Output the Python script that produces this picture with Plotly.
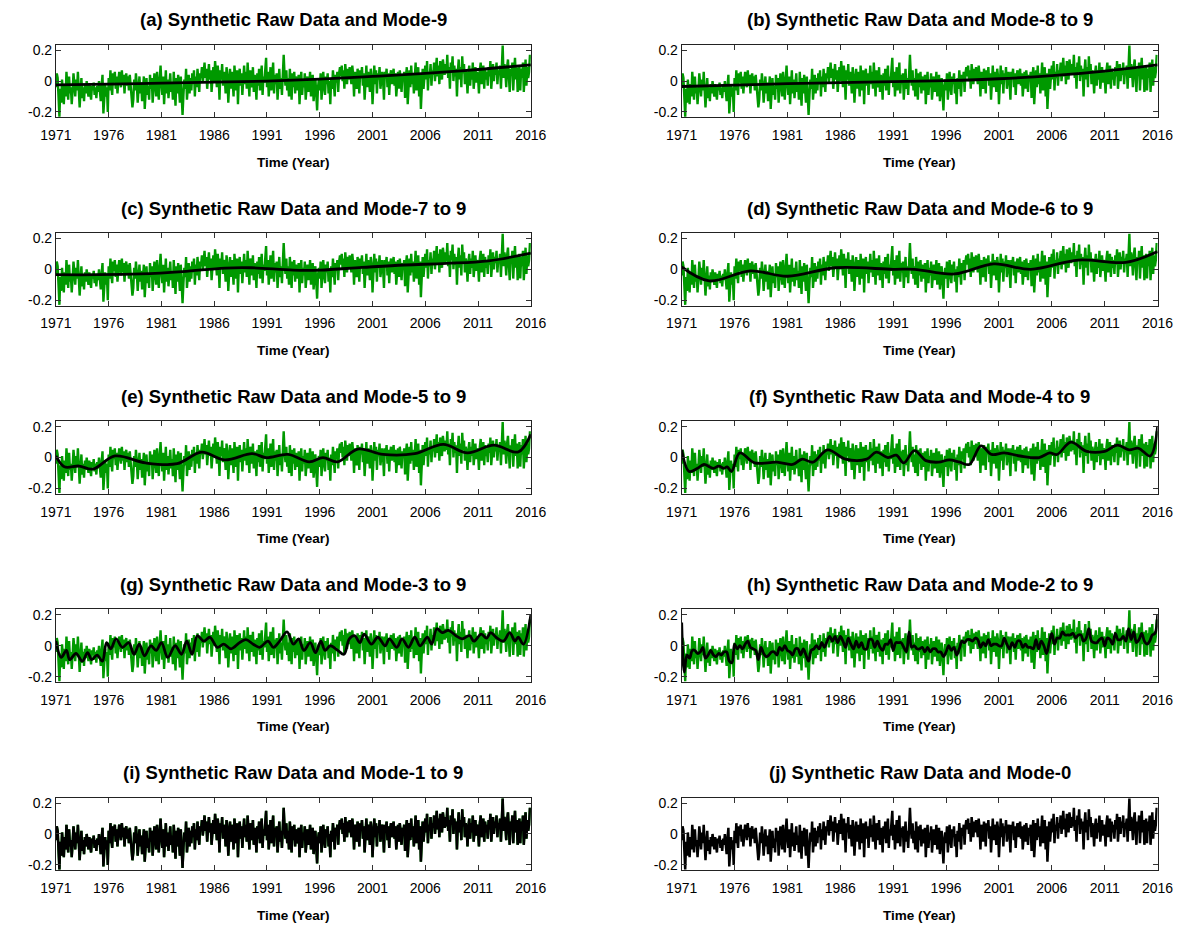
import plotly.graph_objects as go

# ---------------- data ----------------
START_YEAR = 1971
END_YEAR = 2016

# monthly synthetic raw series, Jan 1971 .. Dec 2015
RAW = [
    -0.04, 0.05, 0.02, -0.12, -0.23, -0.05, -0.14, 0.01, -0.08, -0.15, -0.02, -0.10,
    0.06, -0.03, -0.12, 0.03, -0.08, -0.04, -0.15, -0.06, 0.05, -0.02, -0.10, 0.01,
    -0.06, 0.06, -0.03, -0.17, -0.07, 0.02, -0.11, -0.04, -0.13, -0.02, -0.08, 0.00,
    -0.05, -0.10, -0.02, -0.07, -0.12, -0.03, -0.06, -0.01, -0.09, -0.04, -0.11, -0.03,
    -0.07, 0.00, -0.05, -0.13, -0.03, 0.04, -0.21, -0.08, -0.02, -0.10, -0.04, -0.20,
    0.02, -0.06, 0.07, -0.03, -0.09, 0.05, -0.01, 0.06, -0.05, 0.03, -0.08, 0.00,
    0.06, 0.01, -0.04, 0.07, -0.02, 0.04, -0.08, 0.02, 0.05, -0.03, 0.03, -0.06,
    0.04, -0.03, -0.10, -0.17, -0.12, 0.01, -0.06, 0.05, -0.02, -0.14, -0.05, 0.03,
    -0.08, -0.01, -0.13, -0.04, 0.03, -0.18, -0.06, 0.02, -0.09, -0.03, -0.12, 0.04,
    -0.05, 0.02, -0.14, -0.07, 0.05, -0.02, -0.10, 0.06, -0.04, -0.12, 0.01, 0.10,
    -0.02, -0.09, 0.03, -0.15, -0.04, 0.07, -0.08, 0.01, -0.11, -0.03, 0.05, -0.07,
    -0.01, -0.12, 0.06, -0.05, -0.16, 0.02, -0.08, 0.04, -0.03, -0.14, 0.03, -0.06,
    -0.22, -0.09, 0.01, -0.05, 0.08, -0.12, -0.03, 0.04, -0.08, 0.02, -0.06, 0.05,
    -0.02, 0.07, -0.10, 0.03, -0.04, 0.08, 0.00, -0.07, 0.05, 0.02, 0.09, -0.01,
    0.05, 0.12, 0.02, 0.08, -0.05, 0.06, 0.11, 0.01, 0.07, -0.07, 0.04, 0.09,
    0.00, 0.13, 0.05, -0.04, 0.10, 0.03, -0.12, 0.07, 0.01, 0.11, -0.03, 0.06,
    0.02, -0.08, 0.09, 0.04, -0.14, 0.03, 0.08, -0.05, 0.06, 0.00, -0.10, 0.10,
    0.04, -0.06, 0.07, -0.15, 0.02, 0.08, -0.03, 0.05, -0.09, 0.03, 0.10, -0.02,
    0.06, -0.05, 0.12, 0.01, -0.10, 0.07, 0.03, -0.04, 0.09, -0.07, 0.04, 0.00,
    -0.12, 0.05, -0.03, 0.08, -0.06, 0.02, 0.10, -0.09, 0.03, -0.01, 0.07, 0.15,
    -0.04, 0.06, -0.10, 0.03, 0.09, -0.06, 0.01, 0.12, -0.08, 0.04, -0.02, 0.05,
    -0.12, 0.03, 0.08, -0.05, 0.02, -0.09, 0.06, 0.17, 0.04, -0.03, 0.07, -0.06,
    0.02, -0.10, 0.08, 0.00, -0.12, 0.05, -0.04, 0.06, -0.08, 0.03, -0.01, -0.06,
    0.04, -0.15, -0.02, 0.06, -0.09, 0.01, -0.04, 0.05, -0.12, -0.01, 0.03, -0.07,
    -0.03, 0.06, -0.10, -0.02, 0.04, -0.13, -0.05, 0.02, -0.08, -0.19, -0.04, 0.01,
    -0.06, 0.05, -0.12, -0.01, 0.06, -0.04, -0.09, 0.03, -0.02, 0.05, -0.08, 0.00,
    -0.15, 0.02, -0.05, 0.07, -0.03, -0.10, 0.04, -0.01, 0.06, -0.07, 0.05, 0.09,
    0.03, 0.10, 0.00, 0.07, -0.05, 0.11, 0.04, -0.02, 0.08, 0.01, 0.09, 0.05,
    -0.02, 0.10, 0.04, -0.10, 0.06, 0.01, -0.05, 0.08, 0.03, -0.08, 0.07, 0.02,
    0.09, -0.03, 0.05, -0.12, 0.02, 0.10, -0.04, 0.06, 0.01, -0.07, 0.08, 0.03,
    -0.15, 0.04, 0.10, -0.02, 0.07, -0.08, 0.05, 0.01, 0.09, -0.05, 0.03, 0.06,
    0.00, -0.12, 0.06, 0.02, 0.08, -0.04, 0.05, -0.09, 0.03, 0.07, -0.02, 0.04,
    0.08, -0.03, 0.05, -0.10, 0.02, 0.06, -0.05, 0.07, 0.01, -0.07, 0.04, 0.00,
    0.06, -0.11, 0.03, 0.09, -0.15, 0.01, 0.07, -0.04, 0.10, -0.02, 0.05, -0.08,
    0.04, 0.12, -0.06, 0.02, 0.09, -0.10, 0.05, -0.18, -0.03, 0.08, -0.05, 0.03,
    0.10, 0.01, 0.13, -0.06, 0.06, 0.02, 0.11, -0.03, 0.07, 0.04, 0.12, 0.00,
    0.08, 0.15, 0.03, 0.10, -0.02, 0.13, 0.06, 0.01, 0.14, 0.07, 0.04, 0.11,
    0.05, 0.17, 0.02, 0.09, -0.05, 0.12, 0.06, 0.16, 0.00, 0.10, 0.03, 0.08,
    -0.10, 0.06, 0.14, 0.01, 0.09, -0.04, 0.16, 0.05, 0.11, -0.02, 0.07, 0.03,
    -0.08, 0.05, 0.10, -0.03, 0.07, 0.01, 0.12, -0.05, 0.04, 0.09, -0.01, 0.06,
    0.02, -0.08, 0.07, 0.12, -0.02, 0.05, 0.10, -0.05, 0.08, 0.01, 0.06, -0.03,
    0.09, 0.03, 0.13, -0.05, 0.06, 0.11, 0.00, 0.08, 0.04, 0.12, -0.02, 0.07,
    0.05, 0.10, -0.05, 0.08, 0.23, 0.02, 0.11, 0.06, -0.04, 0.09, 0.14, 0.03,
    -0.07, 0.08, 0.04, 0.12, -0.06, 0.06, 0.15, 0.01, 0.09, -0.07, 0.05, 0.10,
    -0.06, 0.08, 0.02, 0.12, -0.07, 0.05, 0.14, -0.03, 0.09, 0.02, 0.06, 0.17,
]

# reconstructed mode sums (year, value)
MODE9_T = [1971, 1976, 1981, 1986, 1991, 1996, 2001, 2006, 2011, 2016]
MODE9_V = [-0.025, -0.02, -0.013, -0.007, 0.0, 0.012, 0.03, 0.05, 0.075, 0.105]

MODE8_T = [1971, 1976, 1981, 1986, 1991, 1996, 2001, 2006, 2011, 2016]
MODE8_V = [-0.035, -0.026, -0.017, -0.01, -0.004, 0.003, 0.015, 0.035, 0.065, 0.105]

MODE7_T = [1971, 1975, 1979, 1983, 1987, 1989.5, 1993.5, 1996, 2000, 2004, 2008, 2012, 2016]
MODE7_V = [-0.035, -0.035, -0.03, -0.015, 0.008, 0.01, -0.005, -0.005, 0.012, 0.028, 0.038, 0.055, 0.105]

MODE6_T = [1971, 1973.6, 1977.5, 1981, 1985.5, 1991, 1993, 1996.8, 2000.5, 2004, 2008.5, 2013, 2016]
MODE6_V = [0.015, -0.075, -0.01, -0.045, 0.01, 0.0, 0.0, -0.03, 0.035, 0.0, 0.06, 0.045, 0.115]

MODE5_T = [1971, 1971.8, 1973.2, 1974.5, 1976.6, 1979.5, 1982.5, 1984.8, 1987, 1989.6, 1990.9,
           1993, 1995, 1996.3, 1997.7, 1999.6, 2002, 2005, 2007.7, 2010, 2012.5, 2014.8, 2016]
MODE5_V = [0.01, -0.06, -0.055, -0.075, 0.01, -0.035, -0.04, 0.035, -0.015, 0.025, 0.0,
           0.02, -0.028, 0.0, -0.028, 0.055, 0.02, 0.025, 0.085, 0.03, 0.08, 0.036, 0.15]

MODE4_T = [1971, 1971.7, 1972.5, 1973.1, 1974.0, 1974.5, 1975.0, 1975.3, 1975.7, 1976.5, 1977.9,
           1980, 1981.5, 1982.4, 1983.4, 1984.8, 1986.5, 1988.5, 1989.4, 1990.5, 1991.3, 1992.0,
           1993.0, 1994.1, 1995.3, 1996.3, 1997.3, 1998.2, 1999.3, 2000.3, 2001.5, 2003, 2004.8,
           2005.8, 2006.5, 2007.8, 2009.3, 2011.0, 2012.2, 2013.3, 2014.2, 2015.3, 2016]
MODE4_V = [0.05, -0.09, -0.07, -0.045, -0.07, -0.055, -0.07, -0.06, -0.09, 0.03, -0.035,
           -0.03, -0.045, -0.01, -0.03, 0.05, -0.01, -0.01, 0.035, 0.0, 0.015, -0.035,
           0.045, -0.02, -0.03, -0.015, -0.03, -0.045, 0.075, 0.02, 0.03, 0.01, 0.0,
           0.03, 0.02, 0.10, 0.04, 0.04, 0.08, 0.05, 0.06, 0.01, 0.2]

MODE3_T = [1971.0, 1971.5, 1972.0, 1972.3, 1972.9, 1973.5, 1974.0, 1974.4, 1974.9, 1975.4,
           1975.8, 1976.2, 1976.7, 1977.3, 1977.9, 1978.4, 1978.9, 1979.4, 1980.0, 1980.5,
           1981.0, 1981.6, 1982.3, 1982.9, 1983.4, 1983.9, 1984.4, 1985.0, 1985.6, 1986.3,
           1986.9, 1987.6, 1988.4, 1989.0, 1989.7, 1990.3, 1991.1, 1991.6, 1992.2, 1992.9,
           1993.5, 1994.0, 1994.5, 1995.1, 1995.6, 1996.1, 1996.5, 1997.0, 1997.7, 1998.3,
           1998.8, 1999.3, 1999.8, 2000.2, 2000.9, 2001.5, 2002.2, 2002.6, 2003.3, 2003.8,
           2004.4, 2005.0, 2005.5, 2006.2, 2006.6, 2007.1, 2007.6, 2008.2, 2008.9, 2009.5,
           2010.2, 2010.6, 2011.3, 2011.8, 2012.2, 2012.7, 2013.4, 2014.0, 2014.5, 2014.8,
           2015.3, 2016.0]
MODE3_V = [0.03, -0.075, -0.03, -0.09, -0.05, -0.1, -0.045, -0.09, -0.06, -0.1,
           0.02, -0.02, 0.045, -0.01, 0.02, -0.055, 0.01, -0.065, 0.0, -0.03,
           0.02, -0.075, 0.0, -0.055, 0.03, -0.055, 0.065, 0.03, 0.055, -0.01,
           0.01, -0.02, 0.02, 0.04, 0.01, -0.01, 0.03, -0.01, 0.03, 0.09,
           0.01, 0.045, -0.03, 0.02, -0.045, 0.03, -0.03, 0.0, -0.03, -0.055,
           0.045, 0.065, 0.02, 0.075, 0.01, 0.055, 0.0, 0.045, -0.01, 0.045,
           -0.01, 0.055, 0.0, 0.055, 0.01, 0.11, 0.085, 0.1, 0.065, 0.045,
           0.065, 0.03, 0.075, 0.05, 0.085, 0.055, 0.03, 0.085, 0.03, 0.055,
           0.01, 0.2]

# mode-2 to 9, quarterly values from 1971.0
MODE2_Q = [
    0.15, -0.17, -0.06, -0.08,  -0.03, -0.03, -0.05, -0.04,  -0.01, -0.08, -0.06, -0.03,
    -0.06, -0.07, -0.05, -0.06,  -0.04, -0.04, -0.10, -0.11,  0.01, -0.02, 0.00, -0.02,
    0.01, 0.03, -0.01, -0.02,  -0.03, -0.09, -0.01, -0.05,  -0.07, -0.06, -0.04, -0.04,
    -0.06, -0.01, -0.03, 0.00,  -0.03, -0.04, -0.06, -0.02,  -0.02, -0.06, -0.02, -0.06,
    -0.10, -0.03, -0.02, 0.00,  -0.02, 0.02, -0.01, 0.03,  0.06, 0.03, 0.06, 0.02,
    0.06, 0.03, -0.01, 0.05,  0.01, -0.02, 0.03, -0.01,  0.02, -0.02, -0.02, 0.04,
    0.04, -0.01, 0.03, -0.01,  -0.03, 0.01, 0.01, 0.04,  -0.03, 0.02, 0.02, 0.02,
    -0.01, -0.04, 0.09, -0.01,  0.00, -0.02, -0.02, -0.01,  -0.04, -0.01, -0.04, -0.02,
    -0.02, -0.04, -0.04, -0.07,  -0.04, 0.00, -0.03, -0.01,  -0.06, -0.02, 0.03, 0.02,
    0.04, 0.04, 0.03, 0.05,  0.04, -0.01, 0.02, 0.00,  0.04, 0.00, 0.01, 0.01,
    0.00, 0.00, 0.05, 0.01,  -0.02, 0.02, -0.01, 0.03,  0.03, -0.01, 0.01, -0.01,
    -0.01, -0.02, 0.04, -0.02,  0.03, 0.00, -0.05, 0.02,  0.08, 0.01, 0.05, 0.05,
    0.09, 0.07, 0.07, 0.07,  0.08, 0.05, 0.07, 0.07,  0.03, 0.05, 0.11, 0.03,
    0.02, 0.02, 0.04, 0.05,  0.00, 0.05, 0.04, 0.01,  0.08, 0.04, 0.04, 0.06,
    0.03, 0.11, 0.04, 0.09,  0.02, 0.04, 0.08, 0.03,  0.01, 0.03, 0.07, 0.08,
    0.2,
]

TITLES = [
    "(a) Synthetic Raw Data and Mode-9",
    "(b) Synthetic Raw Data and Mode-8 to 9",
    "(c) Synthetic Raw Data and Mode-7 to 9",
    "(d) Synthetic Raw Data and Mode-6 to 9",
    "(e) Synthetic Raw Data and Mode-5 to 9",
    "(f) Synthetic Raw Data and Mode-4 to 9",
    "(g) Synthetic Raw Data and Mode-3 to 9",
    "(h) Synthetic Raw Data and Mode-2 to 9",
    "(i) Synthetic Raw Data and Mode-1 to 9",
    "(j) Synthetic Raw Data and Mode-0",
]
X_TICKS = [1971, 1976, 1981, 1986, 1991, 1996, 2001, 2006, 2011, 2016]
Y_TICKS = [-0.2, 0, 0.2]
Y_TICK_TEXT = ["-0.2", "0", "0.2"]
X_LABEL = "Time (Year)"

# ---------------- figure ----------------
W, H = 1195, 927
GREEN = "#009900"
FONT = "Liberation Sans, Arial, Helvetica, sans-serif"

raw_t = [START_YEAR + i / 12 for i in range(len(RAW))]
mode2_t = [START_YEAR + i / 4 for i in range(len(MODE2_Q))]

overlays = [
    (MODE9_T, MODE9_V, "spline"),
    (MODE8_T, MODE8_V, "spline"),
    (MODE7_T, MODE7_V, "spline"),
    (MODE6_T, MODE6_V, "spline"),
    (MODE5_T, MODE5_V, "spline"),
    (MODE4_T, MODE4_V, "spline"),
    (MODE3_T, MODE3_V, "spline"),
    (mode2_t, MODE2_Q, "spline"),
    (raw_t, RAW, "linear"),
    (raw_t, RAW, "linear"),
]

col_px = [(41, 529), (684, 1173)]
row_top0, row_step, plot_h = 42, 189.25, 73

fig = go.Figure()
layout = dict(
    width=W, height=H,
    margin=dict(l=0, r=0, t=0, b=0),
    paper_bgcolor="white", plot_bgcolor="white",
    showlegend=False,
    font=dict(family=FONT, size=14, color="black"),
    annotations=[],
)

for k in range(10):
    row, col = divmod(k, 2)
    x0, x1 = col_px[col]
    top = row_top0 + row * row_step
    bot = top + plot_h
    idx = "" if k == 0 else str(k + 1)
    xa, ya = "x" + idx, "y" + idx

    if k < 9:
        fig.add_trace(go.Scatter(
            x=raw_t, y=RAW, mode="lines", xaxis=xa, yaxis=ya,
            line=dict(color=GREEN, width=2.4), hoverinfo="skip"))
    ot, ov, shape = overlays[k]
    fig.add_trace(go.Scatter(
        x=ot, y=ov, mode="lines", xaxis=xa, yaxis=ya,
        line=dict(color="black", width=2.8 if shape == "spline" else 2.5, shape=shape),
        hoverinfo="skip"))

    layout["xaxis" + idx] = dict(
        domain=[x0 / W, x1 / W], anchor=ya, range=[START_YEAR, END_YEAR],
        tickmode="array", tickvals=X_TICKS, ticktext=[str(v) for v in X_TICKS],
        ticks="inside", ticklen=5, tickwidth=1, tickcolor="#333",
        showline=True, linecolor="#222", linewidth=1, mirror="allticks",
        showgrid=False, zeroline=False, tickfont=dict(size=14),
        ticklabelstandoff=5,
    )
    layout["yaxis" + idx] = dict(
        domain=[1 - bot / H, 1 - top / H], anchor=xa, range=[-0.235, 0.235],
        tickmode="array", tickvals=Y_TICKS, ticktext=Y_TICK_TEXT,
        ticks="inside", ticklen=5, tickwidth=1, tickcolor="#333",
        showline=True, linecolor="#222", linewidth=1, mirror="allticks",
        showgrid=False, zeroline=False, tickfont=dict(size=14),
    )
    cx = (x0 + x1) / 2 / W
    layout["annotations"].append(dict(
        text="<b>" + TITLES[k] + "</b>", x=cx, y=1 - (top - 25) / H,
        xref="paper", yref="paper", xanchor="center", yanchor="middle",
        showarrow=False, font=dict(size=18.5, family=FONT)))
    layout["annotations"].append(dict(
        text="<b>" + X_LABEL + "</b>", x=cx, y=1 - (bot + 45) / H,
        xref="paper", yref="paper", xanchor="center", yanchor="middle",
        showarrow=False, font=dict(size=13.5, family=FONT)))

fig.update_layout(**layout)
fig.write_html("out.html")
